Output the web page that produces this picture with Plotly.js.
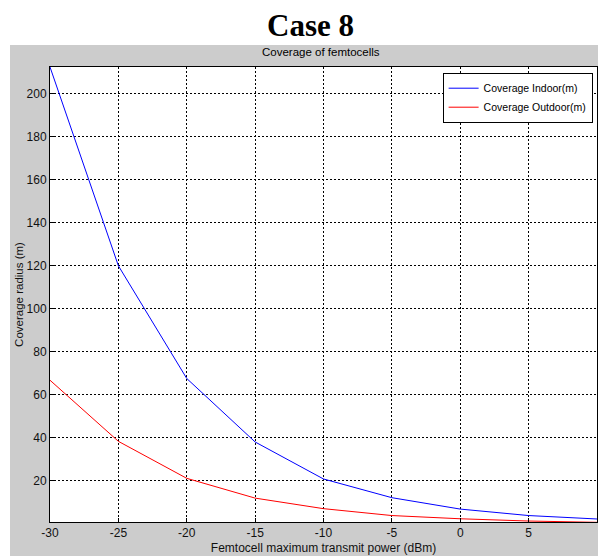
<!DOCTYPE html>
<html>
<head>
<meta charset="utf-8">
<script src="https://cdn.plot.ly/plotly-3.0.1.min.js"></script>
<style>
html,body{margin:0;padding:0;background:#fff;width:598px;height:556px;overflow:hidden;}
#bg{position:absolute;left:10px;top:45px;width:588px;height:511px;background:#cccccc;}
#plot{position:absolute;left:0;top:0;width:598px;height:556px;}
</style>
</head>
<body>
<div id="bg"></div>
<div id="plot"></div>
<script>
// Transmit power (dBm)
const powerDbm = [-30, -25, -20, -15, -10, -5, 0, 5, 10];
// Coverage radius (m)
const indoorRadius = [212.4, 120, 67.6, 38.1, 20.9, 12.2, 6.9, 3.9, 2.3];
const outdoorRadius = [66.8, 38.4, 21.2, 12.0, 7.1, 3.9, 2.4, 1.35, 0.75];
const xTicks = [-30, -25, -20, -15, -10, -5, 0, 5, 10];
const yTicks = [20, 40, 60, 80, 100, 120, 140, 160, 180, 200];

const font = 'Liberation Sans, Arial, sans-serif';

const traces = [
  {x: powerDbm, y: indoorRadius, type: 'scatter', mode: 'lines', name: 'Coverage Indoor(m)',
   line: {color: '#0000ff', width: 1}},
  {x: powerDbm, y: outdoorRadius, type: 'scatter', mode: 'lines', name: 'Coverage Outdoor(m)',
   line: {color: '#ff0000', width: 1}}
];

const axisCommon = {
  showline: true, linecolor: '#000', linewidth: 1, mirror: true,
  ticks: 'inside', ticklen: 4, tickcolor: '#000',
  showgrid: true, gridcolor: '#000', gridwidth: 1, griddash: '2px,2px',
  zeroline: false, tickfont: {family: font, size: 12, color: '#111'}
};

const layout = {
  width: 598, height: 556,
  margin: {l: 50, r: 0.6, t: 67.3, b: 33.5},
  paper_bgcolor: 'rgba(0,0,0,0)',
  plot_bgcolor: '#ffffff',
  showlegend: true,
  legend: {x: 0.992, y: 0.9875, xanchor: 'right', yanchor: 'top',
    bgcolor: '#ffffff', bordercolor: '#000', borderwidth: 1,
    font: {family: font, size: 10.5, color: '#000'}, itemwidth: 30},
  xaxis: Object.assign({}, axisCommon, {
    range: [-30, 10], tickvals: xTicks, ticktext: xTicks.map(String),
    title: {text: 'Femtocell maximum transmit power (dBm)', font: {family: font, size: 12, color: '#111'}, standoff: 4}
  }),
  yaxis: Object.assign({}, axisCommon, {
    range: [0.9, 212.4], tickvals: yTicks, ticktext: yTicks.map(String),
    title: {text: 'Coverage radius (m)', font: {family: font, size: 11.5, color: '#111'}, standoff: 0}
  }),
  annotations: [
    {text: '<b>Case 8</b>', xref: 'paper', yref: 'paper', x: 0.476, y: 1, yshift: 42,
     xanchor: 'center', yanchor: 'middle', showarrow: false,
     font: {family: 'Liberation Serif, Times New Roman, serif', size: 31, color: '#000'}},
    {text: 'Coverage of femtocells', xref: 'paper', yref: 'paper', x: 0.496, y: 1, yshift: 15,
     xanchor: 'center', yanchor: 'middle', showarrow: false,
     font: {family: font, size: 11.5, color: '#000'}}
  ]
};

Plotly.newPlot('plot', traces, layout, {displayModeBar: false, staticPlot: true});
</script>
</body>
</html>
